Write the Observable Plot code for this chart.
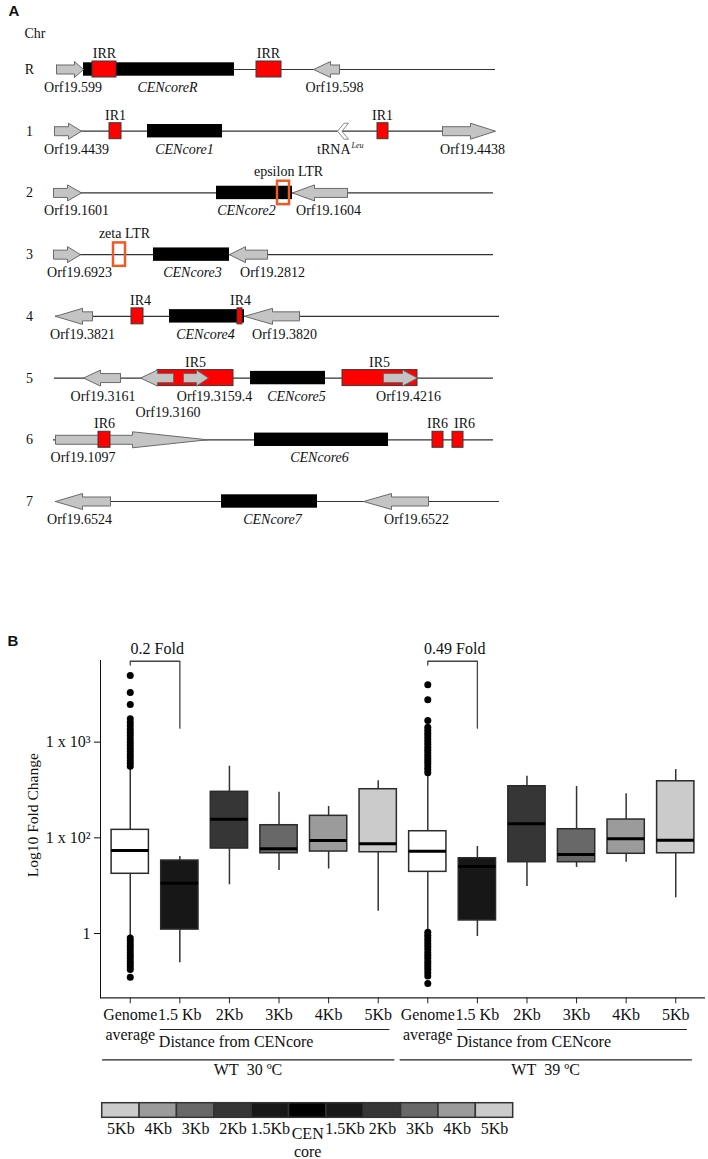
<!DOCTYPE html>
<html><head><meta charset="utf-8">
<script src="https://cdn.jsdelivr.net/npm/d3@7"></script>
<script src="https://cdn.jsdelivr.net/npm/@observablehq/plot@0.6"></script>
<style>
html,body{margin:0;padding:0;background:#fff;}
#root{position:relative;width:708px;height:1159px;overflow:hidden;background:#fff;}
#root > svg{position:absolute;left:0;}
</style></head><body><div id="root"></div>
<script>
// ---------------- Panel A data (schematic positions, arbitrary units) ----------------
const chromosomes = ["R","1","2","3","4","5","6","7"];
const chromStart = [6, 4, 3, 3, 5, 4, 3, 5];
const chromEnd   = [445, 445, 443, 443, 449, 443, 443, 449];

const cenName  = ["CENcoreR","CENcore1","CENcore2","CENcore3","CENcore4","CENcore5","CENcore6","CENcore7"];
const cenChrom = ["R","1","2","3","4","5","6","7"];
const cenStart = [33, 97, 166, 103, 119, 200, 204, 171];
const cenEnd   = [184, 172, 242, 179, 194, 275, 338, 267];
const cenLabelAt = [117, 134, 196, 142, 155, 246, 269, 222];

const irName  = ["IRR","IRR","IR1","IR1","IR4","IR4","IR5","IR5","IR6","IR6","IR6"];
const irChrom = ["R","R","1","1","4","4","5","5","6","6","6"];
const irStart = [42, 206, 59, 327, 81, 187, 107, 292, 48, 382, 402];
const irEnd   = [66, 231, 71, 338, 93, 192, 183, 367, 60, 393, 413];
const irLabelAt = [54, 218, 65, 332, 90, 190, 145, 329, 54, 387, 414];

const ltrName  = ["epsilon LTR","zeta LTR"];
const ltrChrom = ["2","3"];
const ltrStart = [227, 63];
const ltrEnd   = [239, 75];
const ltrLabelAt = [238, 74];

const geneName  = ["Orf19.599","Orf19.598","Orf19.4439","Orf19.4438","Orf19.1601","Orf19.1604","Orf19.6923","Orf19.2812","Orf19.3821","Orf19.3820","Orf19.3161","Orf19.3160","Orf19.3159.4","Orf19.4216","Orf19.1097","Orf19.6524","Orf19.6522"];
const geneChrom = ["R","R","1","1","2","2","3","3","4","4","5","5","5","5","6","7","7"];
const geneTail  = [6, 289, 4, 392, 3, 297, 3, 217, 42, 249, 70, 123, 133, 333, 5, 60, 378];
const geneTip   = [33, 263, 31, 445, 31, 242, 30, 179, 5, 194, 33, 90, 158, 367, 157, 5, 313];
const geneHead  = [9, 17, 13, 25, 14, 22, 13, 16, 27, 28, 17, 17, 12, 15, 75, 27, 28];
const geneLabelAt = [22.5, 284, 26, 422, 26, 278, 29, 222, 32, 234, 52.5, 117.5, 164, 358, 32.5, 29, 366];

const trnaName = "tRNA";
const trnaSup = "Leu";
const trnaChrom = "1";
const trnaStart = 287;
const trnaEnd = 298;

// ---------------- Panel B data ----------------
const groups = ["WT 30 ºC", "WT 39 ºC"];
const distanceKey = ["Genome average","1.5Kb","2Kb","3Kb","4Kb","5Kb"];
const distanceTick = ["Genome\naverage","1.5 Kb","2Kb","3Kb","4Kb","5Kb"];
const foldLabel = ["0.2 Fold", "0.49 Fold"];

// per group, in distanceKey order
const q1_30  = [42.1, 11.0, 77.3, 69.0, 71.9, 70.7];
const med_30 = [73.7, 33.5, 156.5, 76.8, 93.7, 86.6];
const q3_30  = [121.2, 57.9, 302.5, 135.4, 169.8, 322];
const lo_30  = [9.5, 4.94, 32.3, 45.5, 47.2, 17.1];
const hi_30  = [556, 63.8, 560, 299.6, 212.4, 394];

const q1_39  = [44.1, 13.7, 55.6, 55.6, 68.1, 69];
const med_39 = [72.4, 50.1, 140, 66.9, 97.6, 94.4];
const q3_39  = [117.2, 61.2, 346, 123, 155.3, 390];
const lo_39  = [10.7, 9.3, 31.0, 49, 55.6, 23.6];
const hi_39  = [466, 81.1, 440, 343.6, 288.3, 517];

const outHigh30 = [560, 600, 640, 690, 740, 800, 860, 930, 1000, 1080, 1170, 1260, 1360, 1480, 1600, 1760, 2470, 3300, 4960];
const outLow30  = [9.0, 8.4, 7.8, 7.3, 6.8, 6.3, 5.9, 5.5, 5.1, 4.8, 4.5, 4.2, 3.5];
const outHigh39 = [480, 515, 550, 590, 630, 675, 720, 770, 825, 880, 945, 1010, 1080, 1160, 1240, 1330, 1430, 1681, 2767, 3970];
const outLow39  = [10.3, 9.6, 9.0, 8.4, 7.8, 7.3, 6.8, 6.3, 5.9, 5.5, 5.1, 4.8, 4.5, 4.2, 3.9, 3.6, 3.0];

const yTicks = [10, 100, 1000];
const yTickLabels = ["1", "1 x 10²", "1 x 10³"];

// ---------------- Legend bar data ----------------
const legendDistances = ["5Kb","4Kb","3Kb","2Kb","1.5Kb","CEN core","1.5Kb","2Kb","3Kb","4Kb","5Kb"];
const shadeKeys   = ["Genome average","1.5Kb","2Kb","3Kb","4Kb","5Kb","CEN core"];
const shadeColors = ["#ffffff","#171717","#363636","#686868","#9b9b9b","#cbcbcb","#000000"];

// ---------------- Build ----------------
const SERIF = '"Liberation Serif","Times New Roman",Times,serif';
const SANS = '"Liberation Sans",Arial,Helvetica,sans-serif';
const root = document.getElementById("root");

// Panel A
const ROW_TOP = 69, ROW_BOTTOM = 501;
const UNIT = (chromosomes.length - 1) / (ROW_BOTTOM - ROW_TOP);
const rowOf = c => chromosomes.indexOf(c);
const off = (row, px) => row + px * UNIT;

const chromRows = chromosomes.map((c, i) => ({chrom: c, row: i, start: chromStart[i], end: chromEnd[i]}));
const cens = cenName.map((n, i) => ({name: n, row: rowOf(cenChrom[i]), start: cenStart[i], end: cenEnd[i], labelAt: cenLabelAt[i]}));
const irs = irName.map((n, i) => ({name: n, chrom: irChrom[i], row: rowOf(irChrom[i]), start: irStart[i], end: irEnd[i], labelAt: irLabelAt[i]}));
const ltrs = ltrName.map((n, i) => ({name: n, row: rowOf(ltrChrom[i]), start: ltrStart[i], end: ltrEnd[i], labelAt: ltrLabelAt[i]}));
const genes = geneName.map((n, i) => ({name: n, row: rowOf(geneChrom[i]), tail: geneTail[i], tip: geneTip[i], head: geneHead[i], labelAt: geneLabelAt[i]}));

const BODY = 4.5, HEAD = 8;
const arrowPts = genes.flatMap(g => {
  const dir = Math.sign(g.tip - g.tail), base = g.tip - dir * g.head;
  return [[g.tail,-BODY],[base,-BODY],[base,-HEAD],[g.tip,0],[base,HEAD],[base,BODY],[g.tail,BODY],[g.tail,-BODY]]
    .map(([x, dy]) => ({id: g.name, x, y: off(g.row, dy)}));
});
const trnaRow = rowOf(trnaChrom);
const tw = trnaEnd - trnaStart;
const chevronPts = [[0,0],[0.6,-8],[1,-8],[0.4,0],[1,8],[0.6,8],[0,0]]
  .map(([f, dy]) => ({x: trnaStart + f * tw, y: off(trnaRow, dy)}));

// IR repeats that contain genes sit beneath the gene arrows; others on top
const irMark = filter => Plot.rect(irs, {filter, x1: "start", x2: "end", y1: d => off(d.row, -8), y2: d => off(d.row, 8), fill: "#ff0000", stroke: "#3a3a3a", strokeWidth: 1});

const plotA = Plot.plot({
  width: 708, height: 560,
  marginTop: 0, marginRight: 0, marginBottom: 0, marginLeft: 0,
  x: {domain: [0, 450], range: [50, 500], axis: null},
  y: {domain: [0, chromosomes.length - 1], range: [ROW_TOP, ROW_BOTTOM], axis: null},
  style: {fontFamily: SERIF, fontSize: "14px", background: "white", color: "#111"},
  marks: [
    Plot.text(["A"], {frameAnchor: "top-left", dx: 8, dy: 11, text: d => d, textAnchor: "start", lineAnchor: "middle", fontFamily: SANS, fontWeight: "bold", fontSize: 15}),
    Plot.text(["Chr"], {frameAnchor: "top-left", dx: 24, dy: 33, text: d => d, textAnchor: "start", lineAnchor: "middle", fontSize: 14}),
    Plot.text(chromRows, {y: "row", frameAnchor: "left", dx: 29, text: "chrom", textAnchor: "middle", fontSize: 14}),
    Plot.ruleY(chromRows, {y: "row", x1: "start", x2: "end", stroke: "#333", strokeWidth: 1.2}),
    Plot.rect(cens, {x1: "start", x2: "end", y1: d => off(d.row, -6.7), y2: d => off(d.row, 6.7), fill: "#000"}),
    irMark(d => d.chrom === "5"),
    Plot.line(arrowPts, {x: "x", y: "y", z: "id", fill: "#c4c4c4", stroke: "#6a6a6a", strokeWidth: 1, curve: "linear"}),
    irMark(d => d.chrom !== "5"),
    Plot.line(chevronPts, {x: "x", y: "y", fill: "#fff", stroke: "#8a8a8a", strokeWidth: 1, curve: "linear"}),
    Plot.rect(ltrs, {x1: "start", x2: "end", y1: d => off(d.row, -11.7), y2: d => off(d.row, 11.7), fill: "none", stroke: "#ee5a24", strokeWidth: 2.5}),
    // labels
    Plot.text(irs, {x: "labelAt", y: "row", dy: -16, text: "name", fontSize: 14}),
    Plot.text(ltrs, {x: "labelAt", y: "row", dy: -21, text: "name", fontSize: 14}),
    Plot.text(cens, {x: "labelAt", y: "row", dy: 18, text: "name", fontSize: 14, fontStyle: "italic"}),
    Plot.text(genes, {filter: d => d.name !== "Orf19.3160", x: "labelAt", y: "row", dy: 18, text: "name", fontSize: 14}),
    Plot.text(genes, {filter: d => d.name === "Orf19.3160", x: "labelAt", y: "row", dy: 34, text: "name", fontSize: 14}),
    Plot.text([trnaName], {x: () => trnaEnd, y: () => trnaRow, dx: 2, dy: 18, text: d => d, textAnchor: "end", fontSize: 14}),
    Plot.text([trnaSup], {x: () => trnaEnd, y: () => trnaRow, dx: 3, dy: 14, text: d => d, textAnchor: "start", fontSize: 8, fontStyle: "italic"})
  ]
});
plotA.style.top = "0px";
root.appendChild(plotA);

// Panel B
const key = (g, d) => g + "|" + d;
const cats = groups.flatMap(g => distanceKey.map(d => key(g, d)));
const stats = {
  [groups[0]]: {q1: q1_30, med: med_30, q3: q3_30, lo: lo_30, hi: hi_30},
  [groups[1]]: {q1: q1_39, med: med_39, q3: q3_39, lo: lo_39, hi: hi_39}
};
const boxes = groups.flatMap(g => distanceKey.map((d, i) => ({
  key: key(g, d), distance: d,
  q1: stats[g].q1[i], median: stats[g].med[i], q3: stats[g].q3[i], lo: stats[g].lo[i], hi: stats[g].hi[i]
})));
const outliers = [
  ...outHigh30.map(v => ({key: key(groups[0], distanceKey[0]), value: v})),
  ...outLow30.map(v => ({key: key(groups[0], distanceKey[0]), value: v})),
  ...outHigh39.map(v => ({key: key(groups[1], distanceKey[0]), value: v})),
  ...outLow39.map(v => ({key: key(groups[1], distanceKey[0]), value: v}))
];
const Y_MIN = 2.13, Y_MAX = 7130;
const BR_TOP = 7000, BR_LEFT = 6400, BR_RIGHT = 1400;
const bracketPts = groups.flatMap(g => [
  {g, x: key(g, distanceKey[0]), y: BR_LEFT},
  {g, x: key(g, distanceKey[0]), y: BR_TOP},
  {g, x: key(g, distanceKey[1]), y: BR_TOP},
  {g, x: key(g, distanceKey[1]), y: BR_RIGHT}
]);
const brackets = groups.map((g, i) => ({g, from: key(g, distanceKey[0]), label: foldLabel[i]}));
const tickText = k => distanceTick[distanceKey.indexOf(k.split("|")[1])];

const xAxisMark = (typeof Plot.axisX === "function")
  ? Plot.axisX({tickSize: 6, tickPadding: 3, tickFormat: tickText, lineHeight: 1.2, fontSize: 16, label: null, stroke: "#222"})
  : null;

const plotB = Plot.plot({
  width: 708, height: 490,
  marginTop: 60, marginBottom: 92.7, marginLeft: 100, marginRight: 3,
  style: {fontFamily: SERIF, fontSize: "16px", background: "white", color: "#111"},
  x: Object.assign({type: "band", domain: cats, paddingInner: 0.248, paddingOuter: 0.224, round: false},
        xAxisMark ? {} : {tickSize: 6, tickPadding: 3, tickFormat: tickText, label: null}),
  y: {type: "log", domain: [Y_MIN, Y_MAX], ticks: yTicks, tickFormat: v => yTickLabels[yTicks.indexOf(v)] ?? "",
      tickSize: 6, tickPadding: 4, line: true, label: null},
  color: {domain: shadeKeys, range: shadeColors},
  marks: [
    Plot.ruleY([Y_MIN], {stroke: "#222", strokeWidth: 1.3}),
    ...(xAxisMark ? [xAxisMark] : []),
    Plot.ruleX(boxes, {x: "key", y1: "lo", y2: "hi", stroke: "#333", strokeWidth: 1.5}),
    Plot.barY(boxes, {x: "key", y1: "q1", y2: "q3", fill: "distance", stroke: "#2b2b2b", strokeWidth: 1.5}),
    Plot.tickY(boxes, {x: "key", y: "median", stroke: "#000", strokeWidth: 3}),
    Plot.dot(outliers, {x: "key", y: "value", r: 3.5, fill: "#000", stroke: "none"}),
    Plot.line(bracketPts, {x: "x", y: "y", z: "g", stroke: "#444", strokeWidth: 1.3}),
    Plot.text(brackets, {x: "from", y: () => BR_TOP, dx: 27, dy: -12, text: "label", fontSize: 16}),
    Plot.text(["B"], {frameAnchor: "top-left", dx: -93, dy: -19, text: d => d, textAnchor: "start", lineAnchor: "middle", fontFamily: SANS, fontWeight: "bold", fontSize: 15}),
    Plot.text(["Log10 Fold Change"], {frameAnchor: "left", dx: -67, dy: -14, rotate: -90, text: d => d, textAnchor: "middle", lineAnchor: "middle", fontSize: 15.5}),
    // group annotations below the axis (ruleY spans from band start of x1 to band end of x2)
    Plot.ruleY(groups, {x1: g => key(g, distanceKey[1]), x2: g => key(g, distanceKey[5]), y: () => Y_MIN, dy: 31.7, insetLeft: -1, insetRight: 7, stroke: "#222", strokeWidth: 1.2}),
    Plot.text(groups, {x: g => key(g, distanceKey[1]), y: () => Y_MIN, dx: -21, dy: 44, textAnchor: "start", text: () => "Distance from CENcore", fontSize: 16}),
    Plot.ruleY(groups, {x1: g => key(g, distanceKey[0]), x2: g => key(g, distanceKey[5]), y: () => Y_MIN, dy: 62, insetLeft: -9, insetRight: 2, stroke: "#222", strokeWidth: 1.2}),
    Plot.text(groups, {x: g => key(g, distanceKey[3]), y: () => Y_MIN, dx: -31, dy: 72, text: g => g.replace(" ", "\u00a0 "), fontSize: 16})
  ]
});
plotB.style.top = "600px";
root.appendChild(plotB);

// Legend bar
const plotC = Plot.plot({
  width: 708, height: 64,
  marginTop: 7.7, marginBottom: 41.7, marginLeft: 101.7, marginRight: 195.3,
  style: {fontFamily: SERIF, fontSize: "16px", background: "white", color: "#111"},
  x: {type: "band", domain: d3.range(legendDistances.length), padding: 0, round: false, axis: null},
  color: {domain: shadeKeys, range: shadeColors},
  marks: [
    Plot.cell(legendDistances, {x: (d, i) => i, fill: d => d, stroke: "#333", strokeWidth: 1.5}),
    Plot.text(legendDistances, {filter: d => d !== "CEN core", x: (d, i) => i, frameAnchor: "bottom", dy: 11, lineAnchor: "middle", text: d => d, fontSize: 16}),
    Plot.text(legendDistances, {filter: d => d === "CEN core", x: (d, i) => i, frameAnchor: "bottom", dy: 8, lineAnchor: "top", lineHeight: 1.15, text: () => "CEN\ncore", fontSize: 16})
  ]
});
plotC.style.top = "1095px";
root.appendChild(plotC);
</script></body></html>
